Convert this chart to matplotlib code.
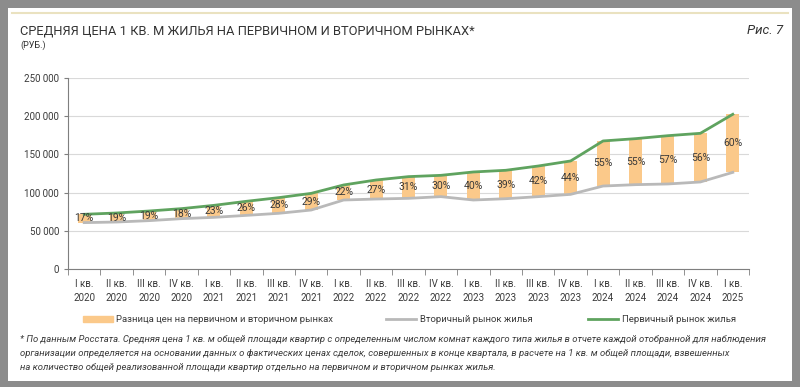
import matplotlib
matplotlib.use("Agg")
import matplotlib.pyplot as plt
from matplotlib.patches import Rectangle
from matplotlib.lines import Line2D
from matplotlib.ticker import FuncFormatter, MultipleLocator
import numpy as np

plt.rcParams['font.family'] = ['Roboto', 'DejaVu Sans']

# data (руб. за 1 кв. м)
quarters = ["I кв.", "II кв.", "III кв.", "IV кв."]
labels = [f"{q}\n{y}" for y in range(2020, 2025) for q in quarters] + ["I кв.\n2025"]
secondary = [60700, 61500, 63300, 65900, 67600, 70200, 72900, 77200, 90300, 91600,
             92500, 94700, 90300, 92000, 94700, 97700, 108600, 110400, 111300, 113900, 126500]
primary = [71600, 73300, 75900, 79000, 83300, 88600, 93400, 99000, 110000, 116500,
           120900, 122600, 127000, 129200, 134800, 141400, 167600, 170600, 174500, 177600, 202500]
diff_pct = [17, 19, 19, 18, 23, 26, 28, 29, 22, 27, 31, 30, 40, 39, 42, 44, 55, 55, 57, 56, 60]

ORANGE = "#FBC98A"
GREEN = "#5FA35F"
GREY = "#B9B9B9"
TXT = "#3A3A3A"

fig = plt.figure(figsize=(8, 3.87), dpi=100)
fig.patch.set_facecolor("#8C8C8C")
# white card + beige line on top
fig.patches.append(Rectangle((8/800, 1-381/387), 784/800, 373/387, transform=fig.transFigure,
                             facecolor="white", edgecolor="none", zorder=-5))
fig.lines.append(Line2D([12/800, 788/800], [1-13/387, 1-13/387], transform=fig.transFigure,
                        color="#EAE2C0", lw=1.5, zorder=-4))

ax = fig.add_axes([68/800, 1-269/387, 681/800, 191/387])
ax.set_facecolor("none")
x = np.arange(len(labels))
sec = np.array(secondary)
prim = np.array(primary)

ax.bar(x, prim - sec, bottom=sec, width=0.4, color=ORANGE, zorder=2)
ax.plot(x, sec, color=GREY, lw=2, zorder=3)
ax.plot(x, prim, color=GREEN, lw=2, zorder=3)
for xi, s, p, pct in zip(x, sec, prim, diff_pct):
    ax.text(xi, (s + p) / 2, f"{pct}%", ha="center", va="center", fontsize=7.5, color=TXT, zorder=4)

ax.set_xlim(-0.5, len(labels) - 0.5)
ax.set_ylim(0, 250000)
ax.yaxis.set_major_locator(MultipleLocator(50000))
ax.yaxis.set_major_formatter(FuncFormatter(lambda v, _: f"{int(v):,}".replace(",", " ")))
ax.grid(axis="y", color="#D9D9D9", lw=0.8, zorder=0)
ax.set_xticks(x)
ax.set_xticklabels(labels, fontsize=7, color=TXT, linespacing=1.5)
ax.set_xticks(np.arange(-0.5, len(labels)), minor=True)
ax.tick_params(axis="x", which="major", length=0, pad=7)
ax.tick_params(axis="x", which="minor", length=4, color="#7F7F7F")
ax.tick_params(axis="y", length=3, color="#7F7F7F", labelsize=7, labelcolor=TXT)
for side in ["top", "right"]:
    ax.spines[side].set_visible(False)
ax.spines["left"].set_color("#7F7F7F")
ax.spines["bottom"].set_color("#7F7F7F")

# legend
handles = [Rectangle((0, 0), 1, 1, color=ORANGE),
           Line2D([], [], color=GREY, lw=2),
           Line2D([], [], color=GREEN, lw=2)]
names = ["Разница цен на первичном и вторичном рынках", "Вторичный рынок жилья", "Первичный рынок жилья"]
for h, n, lx in zip(handles, names, [74, 377, 579]):
    fig.legend([h], [n], loc="center left", bbox_to_anchor=(lx/800, 1-320/387), frameon=False,
               fontsize=6.8, handlelength=3.2, handleheight=0.5, handletextpad=0.4, labelcolor=TXT)

fig.text(20/800, 1-31/387, "СРЕДНЯЯ ЦЕНА 1 КВ. М ЖИЛЬЯ НА ПЕРВИЧНОМ И ВТОРИЧНОМ РЫНКАХ*",
         fontsize=9.3, color="#333333", va="center")
fig.text(20/800, 1-45/387, "(РУБ.)", fontsize=6.5, color="#333333", va="center")
fig.text(783/800, 1-31/387, "Рис. 7", fontsize=9.5, style="italic", color="#333333", va="center", ha="right")

foot = ("* По данным Росстата. Средняя цена 1 кв. м общей площади квартир с определенным числом комнат каждого типа жилья в отчете каждой отобранной для наблюдения\n"
        "организации определяется на основании данных о фактических ценах сделок, совершенных в конце квартала, в расчете на 1 кв. м общей площади, взвешенных\n"
        "на количество общей реализованной площади квартир отдельно на первичном и вторичном рынках жилья.")
fig.text(20/800, 1-335/387, foot, fontsize=6.8, style="italic", color=TXT, va="top", linespacing=1.7)

fig.savefig("out.png", dpi=100, facecolor=fig.get_facecolor())
